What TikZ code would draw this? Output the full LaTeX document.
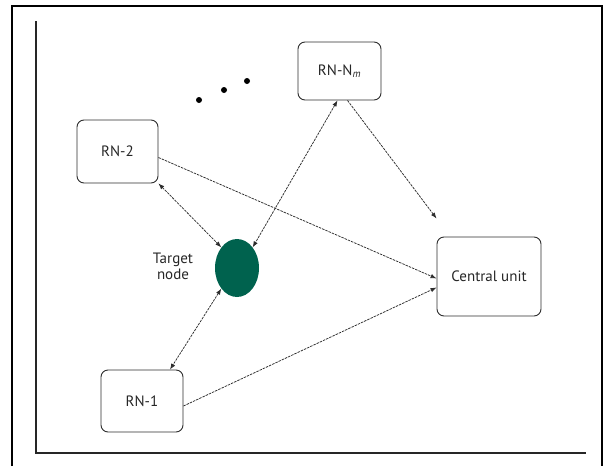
\documentclass[tikz,border=0pt]{standalone}
\usepackage{fontspec}
\setmainfont{PT Sans}
\usetikzlibrary{arrows.meta,shapes.geometric}
\definecolor{linegray}{RGB}{45,45,45}
\definecolor{targetgreen}{RGB}{0,98,78}
\tikzset{
  x=1pt, y=-1pt,
  labeltext/.style={font=\fontsize{15}{16}\selectfont, text=black!85},
  unitbox/.style={draw=linegray, line width=0.9pt, rounded corners=7pt, fill=white, align=center, labeltext},
  link/.style={draw=linegray, line width=0.75pt, dash pattern=on 2.5pt off 1pt, -{Latex[length=6pt,width=4.5pt]}},
  duplex/.style={link, {Latex[length=6pt,width=4.5pt]}-{Latex[length=6pt,width=4.5pt]}},
  frameline/.style={draw=black, line width=1.6pt},
  innerline/.style={draw=black!85, line width=1.1pt}
}
\begin{document}
\begin{tikzpicture}
\useasboundingbox (0,0) rectangle (605,466);
% outer frame, open at the bottom
\draw[frameline] (12,466) -- (12,6) -- (602,6) -- (602,466);
% inner L-shaped axis
\draw[innerline] (36,21) -- (36,453) -- (586,453);

% nodes
\node[unitbox, minimum width=83pt, minimum height=58pt] (rnn) at (339.5,71) {RN-N\textsubscript{\textit{m}}};
\node[unitbox, minimum width=81pt, minimum height=63pt] (rn2) at (117.5,151.5) {RN-2};
\node[unitbox, minimum width=104pt, minimum height=79pt] (cu) at (489,276.5) {Central unit};
\node[unitbox, minimum width=82pt, minimum height=62pt] (rn1) at (142,401) {RN-1};
\node[ellipse, fill=targetgreen, minimum width=44pt, minimum height=58pt, inner sep=0pt] (tn) at (237,268) {};
\node[align=center, labeltext] (tlabel) at (173,266) {Target\\node};

% dots between RN-2 and RN-N_m
\fill[black] (199,100) circle (3pt) (224,90) circle (3pt) (247,81) circle (3pt);

% connectors
\draw[duplex] (rn2.south east) -- (tn.north west);
\draw[duplex] ([xshift=-2pt]rnn.south) -- (tn.north east);
\draw[duplex] (tn.south west) -- ([xshift=28pt]rn1.north);
\draw[link] ([xshift=8pt]rnn.south) -- ([yshift=18pt]cu.north west);
\draw[link] ([yshift=-6pt]rn2.east) -- ([yshift=-2pt]cu.west);
\draw[link] ([yshift=-5pt]rn1.east) -- ([yshift=-11pt]cu.west);
\end{tikzpicture}
\end{document}
